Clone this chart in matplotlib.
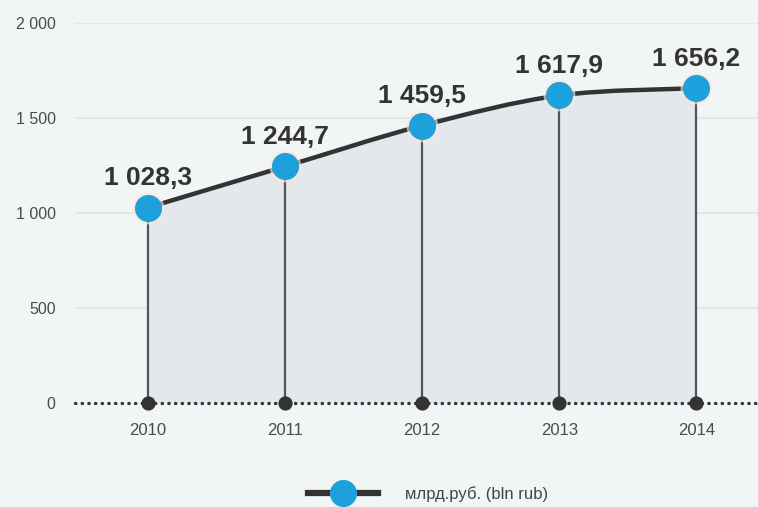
import matplotlib.pyplot as plt
from matplotlib.path import Path
from matplotlib.patches import PathPatch
from matplotlib.lines import Line2D
import numpy as np

# data
years = [2010, 2011, 2012, 2013, 2014]
values = [1028.3, 1244.7, 1459.5, 1617.9, 1656.2]
value_labels = ["1 028,3", "1 244,7", "1 459,5", "1 617,9", "1 656,2"]
yticks = [0, 500, 1000, 1500, 2000]
ytick_labels = ["0", "500", "1 000", "1 500", "2 000"]
legend_label = "млрд.руб. (bln rub)"

bg = "#f2f5f6"
fill_col = "#e2e8eb"
line_col = "#333333"
blue = "#1ea0dc"
font = ["Liberation Sans", "DejaVu Sans"]

fig = plt.figure(figsize=(7.58, 5.07), dpi=100, facecolor=bg)
ax = fig.add_axes([0.099, 0.205, 0.901, 0.75])
ax.set_facecolor(bg)


def smooth_path(xs, ys, closed=False):
    # cubic bezier segments through the points
    xs = np.asarray(xs, float)
    ys = np.asarray(ys, float)
    verts = [(xs[0], ys[0])]
    codes = [Path.MOVETO]
    n = len(xs)
    for i in range(n - 1):
        p0 = (xs[max(i - 1, 0)], ys[max(i - 1, 0)])
        p1 = (xs[i], ys[i])
        p2 = (xs[i + 1], ys[i + 1])
        p3 = (xs[min(i + 2, n - 1)], ys[min(i + 2, n - 1)])
        c1 = (p1[0] + (p2[0] - p0[0]) / 6, p1[1] + (p2[1] - p0[1]) / 6)
        c2 = (p2[0] - (p3[0] - p1[0]) / 6, p2[1] - (p3[1] - p1[1]) / 6)
        verts += [c1, c2, p2]
        codes += [Path.CURVE4] * 3
    if closed:
        verts += [(xs[-1], 0), (xs[0], 0), (xs[0], ys[0])]
        codes += [Path.LINETO, Path.LINETO, Path.CLOSEPOLY]
    return Path(verts, codes)


# grid
for t in yticks[1:]:
    ax.axhline(t, color="#e0e5e8", lw=1.2, zorder=0)

# fill and curve
ax.add_patch(PathPatch(smooth_path(years, values, closed=True), facecolor=fill_col,
                       edgecolor="none", zorder=1))
ax.add_patch(PathPatch(smooth_path(years, values), facecolor="none",
                       edgecolor=line_col, lw=3.2, zorder=3, capstyle="round"))

# zero dotted line
ax.plot([2009.467, 2014.45], [0, 0], color=line_col, lw=2.4, ls=(0, (0.1, 1.9)),
        dash_capstyle="round", zorder=2, clip_on=False)

# vertical drop lines
ax.vlines(years, 0, values, color="#555555", lw=1.6, zorder=2)
ax.scatter(years, [0] * len(years), s=85, color=line_col, zorder=4, clip_on=False)

# markers with halo
ax.plot(years, values, "o", ms=22, color="#fbe9d6", alpha=0.55, zorder=4)
ax.plot(years, values, "o", ms=18.5, color=blue, zorder=5)

for x, y, lab in zip(years, values, value_labels):
    ax.annotate(lab, (x, y), xytext=(0, 16), textcoords="offset points",
                ha="center", va="baseline", fontsize=19, fontweight="bold",
                color="#333333", family=font)

ax.set_xlim(2009.467, 2014.45)
ax.set_ylim(0, 2000)
ax.set_yticks(yticks)
ax.set_yticklabels(ytick_labels, family=font, fontsize=11.5, color="#4a4a4a")
ax.set_xticks(years)
ax.set_xticklabels([str(y) for y in years], family=font, fontsize=12, color="#4a4a4a")
ax.tick_params(length=0)
ax.tick_params(axis="y", pad=14)
ax.tick_params(axis="x", pad=14)
for s in ax.spines.values():
    s.set_visible(False)

# legend
handle = Line2D([], [], color=line_col, lw=4.5, marker="o", ms=18.5, markerfacecolor=blue,
                markeredgecolor=blue)
fig.legend([handle], [legend_label], loc="center", bbox_to_anchor=(0.565, 0.026),
           frameon=False, handlelength=4.2, handletextpad=1.6,
           prop={"family": font, "size": 12}, labelcolor="#444444")

fig.savefig("out.png", dpi=100, facecolor=bg)
